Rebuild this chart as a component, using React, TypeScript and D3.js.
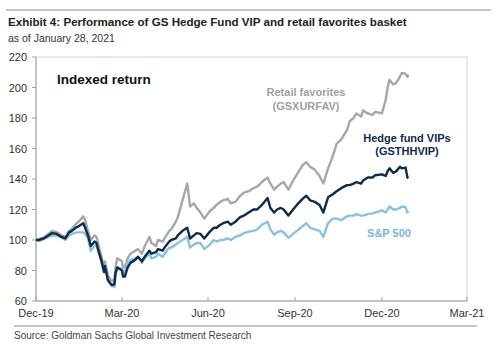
import { useEffect } from "react";
import * as d3 from "d3";

// weekly-ish readings, indexed to 100 at end of 2019
const dates = [
  "2019-12-31", "2020-01-03", "2020-01-08", "2020-01-13", "2020-01-17", "2020-01-22", "2020-01-27", "2020-01-31",
  "2020-02-04", "2020-02-07", "2020-02-12", "2020-02-14", "2020-02-19", "2020-02-21", "2020-02-24", "2020-02-27",
  "2020-03-02", "2020-03-04", "2020-03-06", "2020-03-09", "2020-03-12", "2020-03-13", "2020-03-16", "2020-03-18",
  "2020-03-20", "2020-03-23", "2020-03-24", "2020-03-26", "2020-03-31", "2020-04-01", "2020-04-03", "2020-04-06",
  "2020-04-09", "2020-04-14", "2020-04-17", "2020-04-21", "2020-04-24", "2020-04-29", "2020-05-01", "2020-05-06",
  "2020-05-08", "2020-05-13", "2020-05-15", "2020-05-20", "2020-05-22", "2020-05-27", "2020-05-29", "2020-06-03",
  "2020-06-08", "2020-06-11", "2020-06-15", "2020-06-18", "2020-06-22", "2020-06-26", "2020-07-02", "2020-07-06",
  "2020-07-09", "2020-07-13", "2020-07-16", "2020-07-21", "2020-07-24", "2020-07-29", "2020-08-03", "2020-08-07",
  "2020-08-12", "2020-08-17", "2020-08-21", "2020-08-26", "2020-09-01", "2020-09-04", "2020-09-08", "2020-09-11",
  "2020-09-15", "2020-09-18", "2020-09-23", "2020-09-28", "2020-10-02", "2020-10-08", "2020-10-12", "2020-10-16",
  "2020-10-21", "2020-10-26", "2020-10-30", "2020-11-04", "2020-11-09", "2020-11-13", "2020-11-18", "2020-11-24",
  "2020-11-27", "2020-12-01", "2020-12-04", "2020-12-09", "2020-12-11", "2020-12-16", "2020-12-21", "2020-12-24",
  "2020-12-31", "2021-01-04", "2021-01-06", "2021-01-08", "2021-01-12", "2021-01-15", "2021-01-19", "2021-01-21",
  "2021-01-25", "2021-01-27", "2021-01-28",
];

const retail = [
  100, 100.5, 101.5, 104, 106, 105, 103, 102,
  106, 107.5, 111, 112, 115.5, 113, 106, 100,
  103, 102, 97, 90, 82, 86, 77, 75,
  73, 74, 82, 88, 86, 82, 82, 88,
  91, 93, 94, 91, 96, 102, 98, 96,
  100, 99, 101, 106, 107, 112, 115, 126,
  137, 122, 124, 121, 118, 114, 119, 121,
  123, 125, 126, 127, 124, 125, 129, 131,
  132, 134, 135, 138, 141, 137, 133, 135,
  137, 138, 133, 139, 143, 149, 151, 148,
  146, 142, 137, 147, 155, 163, 166, 172,
  178, 180, 183, 181, 185, 183, 182, 184,
  183, 192, 200, 205, 202, 203, 207, 209.5,
  209, 207, 208.5,
];

const hedge = [
  100, 100, 101, 103, 104.5, 104, 102, 101,
  105, 106, 108.5, 109, 111, 108, 103, 96,
  99, 98, 93, 87, 79, 83, 74, 72,
  70.5, 71, 78, 82, 80, 76, 76, 82,
  85, 87, 89, 86, 89, 93, 91, 92,
  94, 93, 95, 99, 100, 101, 103, 106,
  108, 101, 103, 104.5, 104, 101, 105.5, 108,
  108, 110, 111, 112, 110, 112, 115, 116,
  118, 120, 120, 123, 127.5, 121, 118, 120,
  121, 120, 116, 120, 123, 127, 129, 126,
  125, 123, 118, 128, 130, 132, 134, 136,
  136, 137, 138, 137, 139, 141, 141, 142.5,
  143, 142, 145, 147, 144, 145, 148, 147,
  147.5, 141, 140.5,
];

const spx = [
  100, 99.5, 100.5, 102, 103, 103, 101.5, 100,
  103, 104, 105, 105, 105, 104, 101, 93,
  96, 97, 93, 86, 79, 84, 73, 72,
  70, 69, 76, 82, 81, 78, 79, 84,
  87, 88, 89, 85, 88, 91, 88, 89,
  91, 89, 91, 95, 95, 97, 98, 100,
  102, 95, 97, 98, 98, 94, 97, 100,
  99, 100, 100, 101, 100, 102, 103, 104.5,
  105.5, 106, 107, 110, 112, 107, 103.5, 105,
  106, 105, 101.5, 104, 106, 109, 111, 108,
  107, 106, 102, 111, 114, 114, 113, 115.5,
  116, 116, 117, 116, 116, 117, 117.5, 118,
  119.5, 118, 120, 122, 120, 120, 121, 122,
  121.5, 118, 119,
];

const yTicks = [60, 80, 100, 120, 140, 160, 180, 200, 220];
const xTickDates = ["2019-12-31", "2020-03-31", "2020-06-30", "2020-09-30", "2020-12-31", "2021-03-31"];

const parse = d3.timeParse("%Y-%m-%d");
const fmt = d3.timeFormat("%b-%y");

const W = 500;
const H = 353;
const m = { top: 57, right: 33, bottom: 52, left: 36 };

const font = "'Liberation Sans', Arial, sans-serif";

export default function App() {
  useEffect(() => {
    document.body.style.margin = "0";
  }, []);

  const x = d3
    .scaleTime()
    .domain([parse(xTickDates[0])!, parse(xTickDates[xTickDates.length - 1])!])
    .range([m.left, W - m.right]);
  const y = d3.scaleLinear().domain([60, 220]).range([H - m.bottom, m.top]);

  const ts = dates.map((d) => parse(d)!);
  const line = (vals: number[]) =>
    d3
      .line<number>()
      .x((_, i) => x(ts[i]))
      .y((v) => y(v))(vals) ?? "";

  const series = [
    { name: "retail", vals: retail, color: "#a7a7a7" },
    { name: "spx", vals: spx, color: "#86c1e8" },
    { name: "hedge", vals: hedge, color: "#0c2c4c" },
  ];

  const x0 = m.left;
  const x1 = W - m.right;
  const y0 = H - m.bottom;

  return (
    <svg width={W} height={H} style={{ display: "block", background: "#fff" }} fontFamily={font}>
      <line x1={6} x2={491} y1={10} y2={10} stroke="#8c8c8c" strokeWidth={1.2} />
      <text x={8} y={26} fontSize={11.6} fontWeight="bold" fill="#222">
        Exhibit 4: Performance of GS Hedge Fund VIP and retail favorites basket
      </text>
      <text x={8} y={42} fontSize={10.5} fill="#333">
        as of January 28, 2021
      </text>

      {/* frame */}
      <rect x={x0} y={m.top} width={x1 - x0} height={y0 - m.top} fill="none" stroke="#d0d0d0" strokeWidth={1} />
      <line x1={x0} x2={x0} y1={m.top} y2={y0} stroke="#a0a0a0" />
      <line x1={x0} x2={x1} y1={y0} y2={y0} stroke="#a0a0a0" />

      {yTicks.map((t) => (
        <g key={t}>
          <line x1={x0 - 4} x2={x0} y1={y(t)} y2={y(t)} stroke="#a0a0a0" />
          <text x={x0 - 9} y={y(t) + 4} fontSize={11} textAnchor="end" fill="#333">
            {t}
          </text>
        </g>
      ))}

      {xTickDates.map((d) => {
        const t = parse(d)!;
        return (
          <g key={d}>
            <line x1={x(t)} x2={x(t)} y1={y0} y2={y0 - 4} stroke="#a0a0a0" />
            <text x={x(t)} y={y0 + 16} fontSize={11} textAnchor="middle" fill="#333">
              {fmt(t)}
            </text>
          </g>
        );
      })}

      {series.map((s) => (
        <path key={s.name} d={line(s.vals)} fill="none" stroke={s.color} strokeWidth={2.4} strokeLinejoin="round" />
      ))}

      <text x={57} y={84} fontSize={13.5} fontWeight="bold" fill="#111">
        Indexed return
      </text>

      <text fontSize={11} fontWeight="bold" fill="#a0a0a0" textAnchor="middle">
        <tspan x={306} y={96}>Retail favorites</tspan>
        <tspan x={306} y={110}>(GSXURFAV)</tspan>
      </text>
      <text fontSize={11} fontWeight="bold" fill="#0c2c4c" textAnchor="middle">
        <tspan x={407} y={142}>Hedge fund VIPs</tspan>
        <tspan x={407} y={155}>(GSTHHVIP)</tspan>
      </text>
      <text x={389} y={237} fontSize={11} fontWeight="bold" fill="#78b4dc" textAnchor="middle">
        S&amp;P 500
      </text>

      <line x1={14} x2={477} y1={326} y2={326} stroke="#8c8c8c" strokeWidth={1.2} />
      <text x={14} y={339} fontSize={10} fill="#444">
        Source: Goldman Sachs Global Investment Research
      </text>
    </svg>
  );
}
